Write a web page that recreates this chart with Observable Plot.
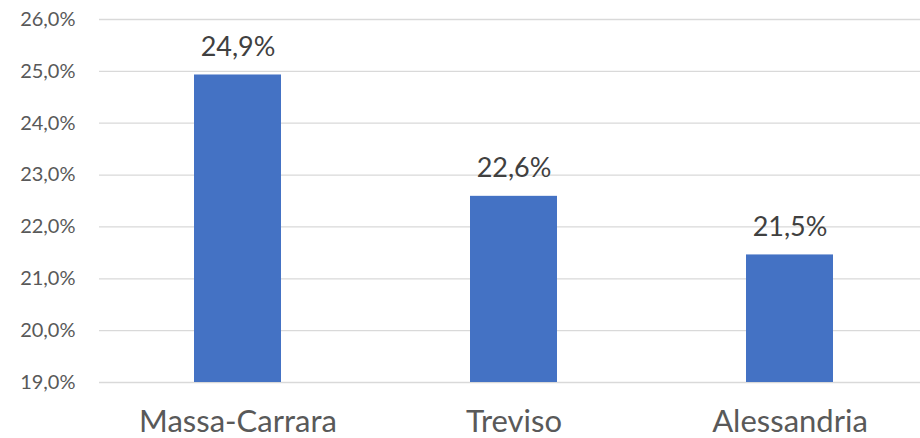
<!DOCTYPE html>
<html>
<head>
<meta charset="utf-8">
<script src="https://cdn.jsdelivr.net/npm/d3@7"></script>
<script src="https://cdn.jsdelivr.net/npm/@observablehq/plot@0.6"></script>
<style>
  html, body { margin: 0; padding: 0; background: #fff; }
  #chart svg { display: block; }
</style>
</head>
<body>
<div id="chart"></div>
<script>
const categories = ["Massa-Carrara", "Treviso", "Alessandria"];
const values = [24.93, 22.59, 21.46];
const yTicks = [19, 20, 21, 22, 23, 24, 25, 26];
const yMin = 19;

const data = categories.map((c, i) => ({category: c, value: values[i]}));
const fmt = d => d.toFixed(1).replace(".", ",") + "%";

const chart = Plot.plot({
  width: 920,
  height: 438,
  marginTop: 19,
  marginBottom: 56,
  marginLeft: 99,
  marginRight: 0,
  style: {fontFamily: "Lato, 'Open Sans', sans-serif", background: "#fff"},
  x: {domain: categories, range: [99, 927], paddingInner: 0.685, paddingOuter: 0.3425, label: null},
  y: {domain: [19, 26], ticks: yTicks, label: null},
  marks: [
    Plot.gridY(yTicks, {stroke: "#d9d9d9", strokeOpacity: 1, strokeWidth: 1.3}),
    Plot.barY(data, {x: "category", y1: yMin, y2: "value", fill: "#4472C4"}),
    Plot.text(data, {x: "category", y: "value", text: d => fmt(d.value), lineAnchor: "bottom", dy: -19, fontSize: 27, fill: "#404040"}),
    Plot.axisY(yTicks, {tickSize: 0, tickPadding: 24, tickFormat: fmt, fontSize: 20, fill: "#595959", label: null}),
    Plot.axisX({tickSize: 0, tickPadding: 27, fontSize: 31, fill: "#595959", label: null})
  ]
});
document.getElementById("chart").appendChild(chart);
</script>
</body>
</html>
